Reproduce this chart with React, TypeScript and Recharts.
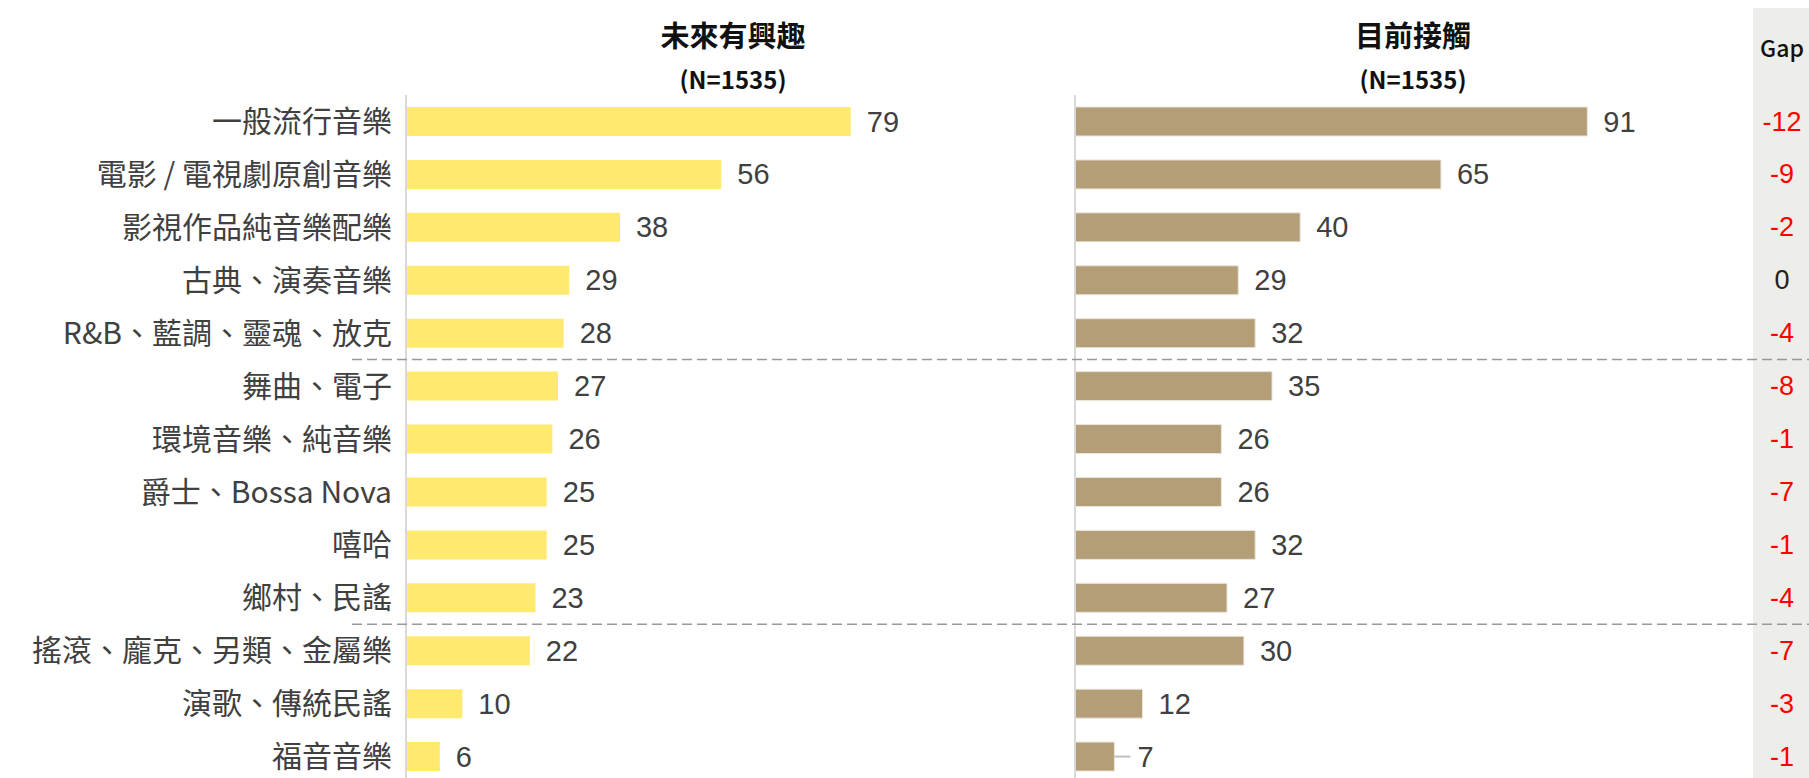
import { BarChart, Bar, XAxis, YAxis, LabelList } from 'recharts';

const categories = [
  '一般流行音樂',
  '電影 / 電視劇原創音樂',
  '影視作品純音樂配樂',
  '古典、演奏音樂',
  'R&B、藍調、靈魂、放克',
  '舞曲、電子',
  '環境音樂、純音樂',
  '爵士、Bossa Nova',
  '嘻哈',
  '鄉村、民謠',
  '搖滾、龐克、另類、金屬樂',
  '演歌、傳統民謠',
  '福音音樂',
];
const futureInterest = [79, 56, 38, 29, 28, 27, 26, 25, 25, 23, 22, 10, 6];
const currentContact = [91, 65, 40, 29, 32, 35, 26, 26, 32, 27, 30, 12, 7];
const gaps = [-12, -9, -2, 0, -4, -8, -1, -7, -1, -4, -7, -3, -1];
// group separators sit after these row indexes
const groupBreaks = [4, 9];

const data = categories.map((name, i) => ({
  name,
  future: futureInterest[i],
  current: currentContact[i],
  gap: gaps[i],
}));

const CJK = '"Noto Sans CJK TC", "Noto Sans", sans-serif';
const NUM = '"Liberation Sans", Arial, sans-serif';

const PLOT_TOP = 95;
const PLOT_H = 688;
const CHART_H = 790;
const BAND = PLOT_H / categories.length;
const PLOT_W = 563;

const ValueLabel = (props: any) => {
  const { x, y, width, height, value, leader } = props;
  const ex = Number(x) + Number(width);
  const cy = Number(y) + Number(height) / 2;
  const useLeader = leader && value < 10;
  return (
    <g>
      {useLeader && <line x1={ex} x2={ex + 16} y1={cy} y2={cy} stroke="#bfbfbf" strokeWidth={2} />}
      <text
        x={ex + (useLeader ? 23 : 16)}
        y={cy}
        dominantBaseline="central"
        fontFamily={NUM}
        fontSize={29}
        fill="#404040"
      >
        {value}
      </text>
    </g>
  );
};

export default function App() {
  const leftW = 1000;
  const rightLeft = 1000;
  const rightW = 809;
  const rightAxis = 75;
  const gapCenter = 1782 - rightLeft;

  const GapLabel = (props: any) => {
    const { y, height, index } = props;
    const g = data[index].gap;
    return (
      <text
        x={gapCenter}
        y={Number(y) + Number(height) / 2}
        textAnchor="middle"
        dominantBaseline="central"
        fontFamily={NUM}
        fontSize={27}
        fill={g < 0 ? '#ff0000' : '#222222'}
      >
        {g}
      </text>
    );
  };

  return (
    <div
      style={{
        position: 'absolute',
        left: 0,
        top: 0,
        width: 1809,
        height: 778,
        overflow: 'hidden',
        background: '#ffffff',
      }}
    >
      {/* gap column background */}
      <div style={{ position: 'absolute', left: 1753, top: 8, width: 56, height: 770, background: '#edede9' }} />
      <div
        style={{
          position: 'absolute', left: 1753, top: 30, width: 58, textAlign: 'center',
          fontFamily: CJK, fontSize: 23, fontWeight: 500, color: '#111', lineHeight: '34px',
        }}
      >
        Gap
      </div>

      {/* panel titles */}
      {[
        { text: '未來有興趣', cx: 733 },
        { text: '目前接觸', cx: 1413 },
      ].map((t) => (
        <div key={t.text} style={{ position: 'absolute', left: t.cx - 150, width: 300, top: 13, textAlign: 'center', fontFamily: CJK, color: '#111' }}>
          <div style={{ fontSize: 29, fontWeight: 700, lineHeight: '42px' }}>{t.text}</div>
          <div style={{ fontSize: 24, fontWeight: 700, lineHeight: '48px' }}>(N=1535)</div>
        </div>
      ))}

      <div style={{ position: 'absolute', left: 0, top: 0 }}>
        <BarChart
          width={leftW}
          height={CHART_H}
          data={data}
          layout="vertical"
          margin={{ top: PLOT_TOP, right: leftW - 406 - PLOT_W, left: 0, bottom: CHART_H - PLOT_TOP - PLOT_H }}
        >
          <XAxis type="number" domain={[0, 100]} hide />
          <YAxis
            type="category"
            dataKey="name"
            width={406}
            tickLine={false}
            tickSize={0}
            tickMargin={14}
            axisLine={{ stroke: '#d9d9d9', strokeWidth: 2 }}
            tick={{ fontFamily: CJK, fontSize: 30, fill: '#404040' }}
            interval={0}
          />
          <Bar dataKey="future" fill="#ffe96e" barSize={29} isAnimationActive={false}>
            <LabelList dataKey="future" content={(p: any) => <ValueLabel {...p} />} />
          </Bar>
        </BarChart>
      </div>

      <div style={{ position: 'absolute', left: rightLeft, top: 0 }}>
        <BarChart
          width={rightW}
          height={CHART_H}
          data={data}
          layout="vertical"
          margin={{ top: PLOT_TOP, right: rightW - rightAxis - PLOT_W, left: 0, bottom: CHART_H - PLOT_TOP - PLOT_H }}
        >
          <XAxis type="number" domain={[0, 100]} hide />
          <YAxis
            type="category"
            dataKey="name"
            width={rightAxis}
            tick={false}
            tickLine={false}
            axisLine={{ stroke: '#d9d9d9', strokeWidth: 2 }}
          />
          <Bar dataKey="current" fill="#b49e78" stroke="#ebe6dc" strokeWidth={1} barSize={29} isAnimationActive={false}>
            <LabelList dataKey="current" content={(p: any) => <ValueLabel {...p} leader />} />
            <LabelList dataKey="gap" content={(p: any) => <GapLabel {...p} />} />
          </Bar>
        </BarChart>
      </div>

      {/* dashed group separators */}
      <svg width={1809} height={778} style={{ position: 'absolute', left: 0, top: 0, pointerEvents: 'none' }}>
        {groupBreaks.map((b) => {
          const y = PLOT_TOP + (b + 1) * BAND;
          return <line key={b} x1={352} x2={1809} y1={y} y2={y} stroke="#999999" strokeWidth={1.5} strokeDasharray="10 5" />;
        })}
      </svg>
    </div>
  );
}
